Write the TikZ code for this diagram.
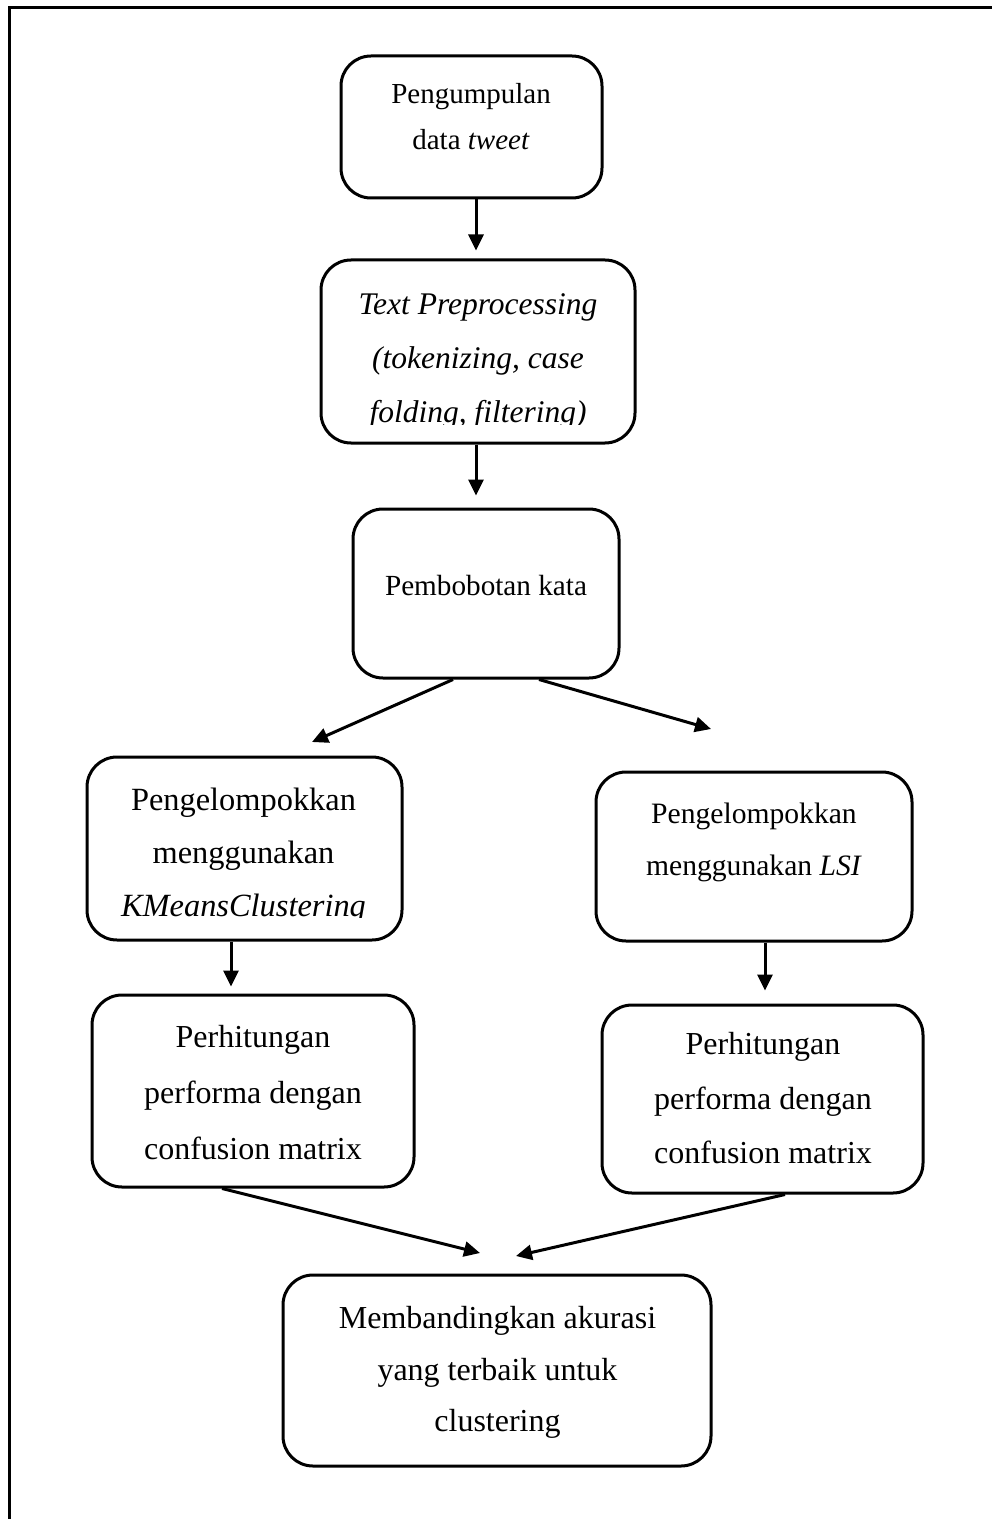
\documentclass[tikz,border=0pt]{standalone}
\usepackage{fontspec}
\setmainfont{Liberation Serif}
\usetikzlibrary{arrows.meta}
\newcommand\boxfont[2]{\fontsize{#1pt}{#2pt}\selectfont}
\begin{document}
\begin{tikzpicture}[x=0.5pt,y=-0.5pt,
  stepbox/.style={draw,line width=1.5pt,rounded corners=15pt,inner sep=0pt},
  boxtext/.style={align=center,inner sep=0pt},
  flow/.style={line width=1.5pt,-{Triangle[length=8pt,width=7.5pt]}}]
\useasboundingbox (0,0) rectangle (992,1519);
% page frame
\draw[line width=1.5pt] (9.5,1519) -- (9.5,7.5) -- (992,7.5);

% boxes
\node[stepbox,minimum width=130.5pt,minimum height=71pt]  (b1) at (471.5,127) {};
\node[stepbox,minimum width=157pt,minimum height=91.5pt]  (b2) at (478,351.5) {};
\node[stepbox,minimum width=133pt,minimum height=84.5pt]  (b3) at (486,593.5) {};
\node[stepbox,minimum width=157.5pt,minimum height=91.5pt] (b4) at (244.5,848.5) {};
\node[stepbox,minimum width=158pt,minimum height=84.5pt]  (b6) at (754,856.5) {};
\node[stepbox,minimum width=161pt,minimum height=96pt]    (b5) at (253,1091) {};
\node[stepbox,minimum width=160.5pt,minimum height=94pt]  (b7) at (762.5,1099) {};
\node[stepbox,minimum width=214pt,minimum height=95.5pt]  (b8) at (497,1370.5) {};

% box texts (the last lines of b2 and b4 are cut off by the text frame)
\node[boxtext,font=\boxfont{14.5}{23}] (t1) at (471,117)
  {\strut Pengumpulan\\\strut data \textit{tweet}};
\begin{scope}
  \clip (321,260) rectangle (635,424);
  \node[boxtext,font=\boxfont{15.75}{27}\itshape] (t2) at (478,358)
    {\strut Text Preprocessing\\\strut (tokenizing, case\\\strut folding, filtering)};
\end{scope}
\node[boxtext,font=\boxfont{14.6}{23}] (t3) at (486,586) {\strut Pembobotan kata};
\begin{scope}
  \clip (87,757) rectangle (402,917);
  \node[boxtext,font=\boxfont{16.2}{26.5}] (t4) at (243.5,853)
    {\strut Pengelompokkan\\\strut menggunakan\\\strut \textit{KMeansClustering}};
\end{scope}
\node[boxtext,font=\boxfont{14.8}{26}] (t6) at (754,839)
  {\strut Pengelompokkan\\\strut menggunakan \textit{LSI}};
\node[boxtext,font=\boxfont{16}{28}] (t5) at (253,1092)
  {\strut Perhitungan\\\strut performa dengan\\\strut confusion matrix};
\node[boxtext,font=\boxfont{16}{27.25}] (t7) at (763,1098.5)
  {\strut Perhitungan\\\strut performa dengan\\\strut confusion matrix};
\node[boxtext,font=\boxfont{16}{25.75}] (t8) at (497.5,1370)
  {\strut Membandingkan akurasi\\\strut yang terbaik untuk\\\strut clustering};

% connector guides
\coordinate (x476) at (476,0);
\coordinate (x453) at (453,0);
\coordinate (x539) at (539,0);
\coordinate (x231) at (231,0);
\coordinate (x765) at (765,0);
\coordinate (x222) at (222,0);
\coordinate (x785) at (785,0);
\coordinate (tip3l) at (312,742);
\coordinate (tip3r) at (711,729);
\coordinate (tip5) at (480,1253);
\coordinate (tip7) at (516,1256);

% connectors
\draw[flow,shorten >=4pt] (b1.south -| x476) -- (b2.north -| x476);
\draw[flow,shorten >=6pt] (b2.south -| x476) -- (b3.north -| x476);
\draw[flow] (b3.south -| x453) -- (tip3l);
\draw[flow] (b3.south -| x539) -- (tip3r);
\draw[flow,shorten >=3.5pt] (b4.south -| x231) -- (b5.north -| x231);
\draw[flow,shorten >=6.5pt] (b6.south -| x765) -- (b7.north -| x765);
\draw[flow] (b5.south -| x222) -- (tip5);
\draw[flow] (b7.south -| x785) -- (tip7);
\end{tikzpicture}
\end{document}
